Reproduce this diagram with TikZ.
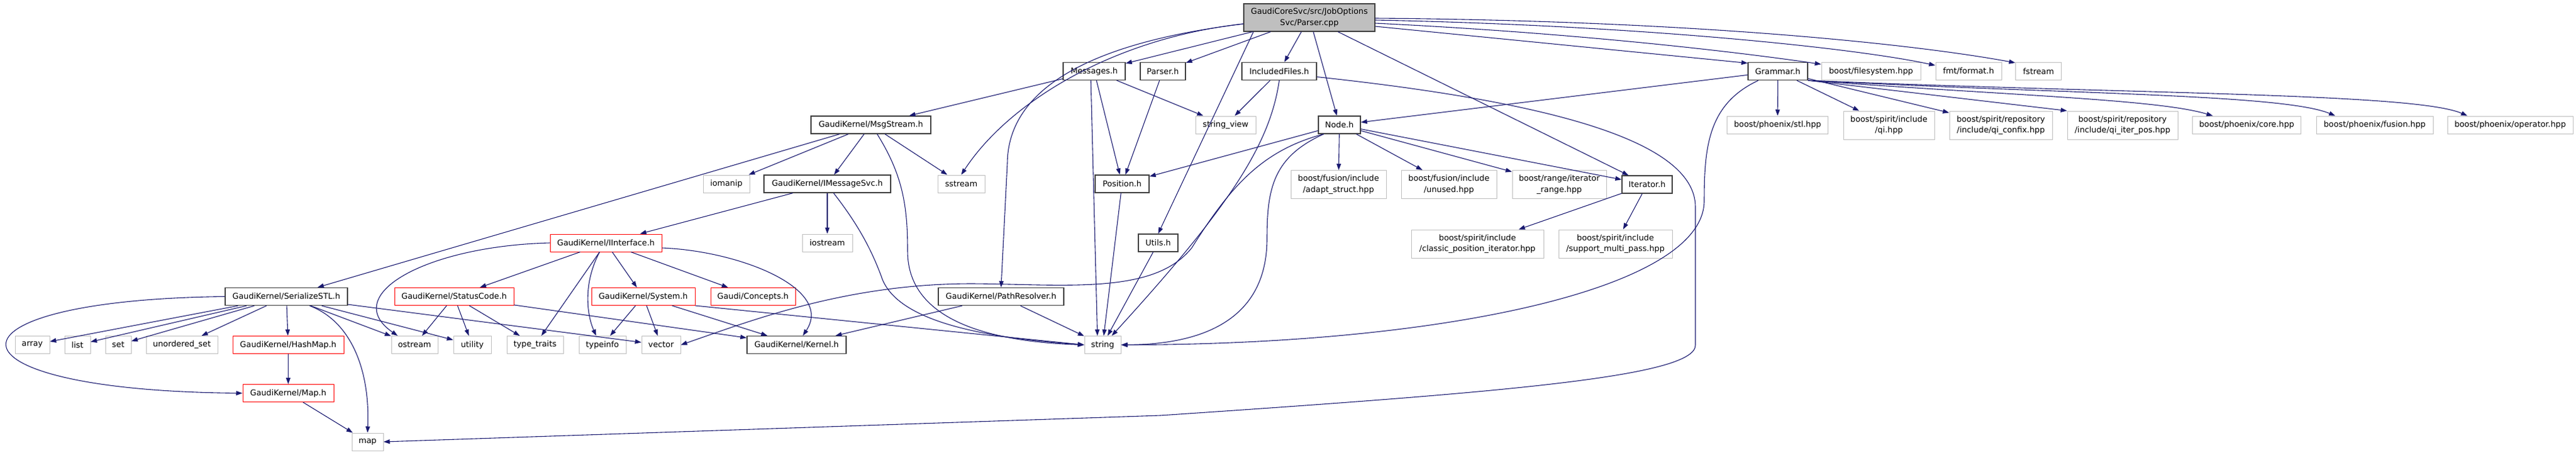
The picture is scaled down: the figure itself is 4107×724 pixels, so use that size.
\documentclass[tikz,border=0pt]{standalone}
\usepackage{fontspec}
\setmainfont{DejaVu Sans}
\usetikzlibrary{arrows.meta}

\definecolor{edgeblue}{HTML}{191970}
\definecolor{extgray}{HTML}{BFBFBF}
\definecolor{docgray}{HTML}{404040}

\tikzset{
    filebox/.style={rectangle, draw, fill=white, line width=1pt, inner sep=0pt,
        minimum height=28pt, align=center, font=\fontsize{12.8pt}{17.5pt}\selectfont},
    docfile/.style={filebox, draw=docgray, line width=1.3pt},
    redfile/.style={filebox, draw=red},
    extfile/.style={filebox, draw=extgray},
    mainfile/.style={filebox, draw=docgray, line width=1.3pt, fill=extgray, minimum height=44pt},
    twoline/.style={minimum height=45pt},
    dep/.style={draw=edgeblue, line width=1.1pt, -{Triangle[length=10pt,width=7pt]}}
}

\begin{document}
\begin{tikzpicture}[x=1pt, y=-1pt]
    \useasboundingbox (0,0) rectangle (4107,724);

    % Main file
    \node[mainfile, minimum width=209pt] (top) at (2087.5,28) {GaudiCoreSvc/src/JobOptions\\Svc/Parser.cpp};

    % First row
    \node[docfile, minimum width=99pt] (msgs) at (1744.5,113.5) {Messages.h};
    \node[docfile, minimum width=72pt] (parser) at (1854,113.5) {Parser.h};
    \node[docfile, minimum width=119pt] (incl) at (2039.5,113.5) {IncludedFiles.h};
    \node[docfile, minimum width=95pt] (grammar) at (2834.5,113.5) {Grammar.h};
    \node[extfile, minimum width=158pt] (fs) at (2983,113.5) {boost/filesystem.hpp};
    \node[extfile, minimum width=105pt] (fmt) at (3138.5,113.5) {fmt/format.h};
    \node[extfile, minimum width=73pt] (fstream) at (3250,113.5) {fstream};

    % Second row
    \node[docfile, minimum width=191pt] (msgstream) at (1388.5,199) {GaudiKernel/MsgStream.h};
    \node[extfile, minimum width=96pt] (strview) at (1954,199) {string\_view};
    \node[docfile, minimum width=67pt] (node) at (2135.5,199) {Node.h};
    \node[extfile, minimum width=161pt] (phstl) at (2834,199) {boost/phoenix/stl.hpp};
    \node[extfile, twoline, minimum width=145pt] (qi) at (3011.5,199.5) {boost/spirit/include\\/qi.hpp};
    \node[extfile, twoline, minimum width=164pt] (qiconfix) at (3190,199.5) {boost/spirit/repository\\/include/qi\_confix.hpp};
    \node[extfile, twoline, minimum width=176pt] (qiiter) at (3384,199.5) {boost/spirit/repository\\/include/qi\_iter\_pos.hpp};
    \node[extfile, minimum width=173pt] (phcore) at (3582,199) {boost/phoenix/core.hpp};
    \node[extfile, minimum width=186pt] (phfusion) at (3786,199) {boost/phoenix/fusion.hpp};
    \node[extfile, minimum width=200pt] (phop) at (4002,199) {boost/phoenix/operator.hpp};

    % Third row
    \node[extfile, minimum width=74pt] (iomanip) at (1158,293) {iomanip};
    \node[docfile, minimum width=202pt] (imsg) at (1319,293) {GaudiKernel/IMessageSvc.h};
    \node[extfile, minimum width=75pt] (sstream) at (1532.5,293) {sstream};
    \node[docfile, minimum width=86pt] (position) at (1789,293) {Position.h};
    \node[extfile, twoline, minimum width=152pt] (adapt) at (2134,294) {boost/fusion/include\\/adapt\_struct.hpp};
    \node[extfile, twoline, minimum width=152pt] (unused) at (2310,294) {boost/fusion/include\\/unused.hpp};
    \node[extfile, twoline, minimum width=150pt] (range) at (2486,294) {boost/range/iterator\\\_range.hpp};
    \node[docfile, minimum width=80pt] (iter) at (2626,294) {Iterator.h};

    % Fourth row
    \node[redfile, minimum width=178pt] (iinterface) at (966,387) {GaudiKernel/IInterface.h};
    \node[extfile, minimum width=80pt] (iostream) at (1319,387) {iostream};
    \node[docfile, minimum width=63pt] (utils) at (1846.5,387) {Utils.h};
    \node[extfile, twoline, minimum width=211pt] (classic) at (2355.5,388.5) {boost/spirit/include\\/classic\_position\_iterator.hpp};
    \node[extfile, twoline, minimum width=181pt] (multipass) at (2575.5,388.5) {boost/spirit/include\\/support\_multi\_pass.hpp};

    % Fifth row
    \node[docfile, minimum width=195pt] (ser) at (456.5,472.5) {GaudiKernel/SerializeSTL.h};
    \node[redfile, minimum width=190pt] (statuscode) at (724,472.5) {GaudiKernel/StatusCode.h};
    \node[redfile, minimum width=165pt] (system) at (1025.5,472.5) {GaudiKernel/System.h};
    \node[redfile, minimum width=135pt] (concepts) at (1200.5,472.5) {Gaudi/Concepts.h};
    \node[docfile, minimum width=200pt] (pathres) at (1596,472.5) {GaudiKernel/PathResolver.h};

    % Sixth row
    \node[extfile, minimum width=55pt] (array) at (51.5,549.5) {array};
    \node[extfile, minimum width=41pt] (list) at (123.5,549.5) {list};
    \node[extfile, minimum width=41pt] (set) at (188.5,549.5) {set};
    \node[extfile, minimum width=114pt] (uset) at (290,549.5) {unordered\_set};
    \node[redfile, minimum width=177pt] (hashmap) at (459.5,549.5) {GaudiKernel/HashMap.h};
    \node[extfile, minimum width=74pt] (ostream) at (661,549.5) {ostream};
    \node[extfile, minimum width=60pt] (utility) at (753,549.5) {utility};
    \node[extfile, minimum width=90pt] (typetraits) at (853,549.5) {type\_traits};
    \node[extfile, minimum width=75pt] (typeinfo) at (960.5,549.5) {typeinfo};
    \node[extfile, minimum width=62pt] (vector) at (1054,549.5) {vector};
    \node[docfile, minimum width=158pt] (kernel) at (1270,549.5) {GaudiKernel/Kernel.h};
    \node[extfile, minimum width=58pt] (string) at (1758,549.5) {string};

    % Last rows
    \node[redfile, minimum width=145pt] (mapH) at (459.5,626.5) {GaudiKernel/Map.h};
    \node[extfile, minimum width=50pt] (map) at (586,704) {map};

    % Straight includes
    \foreach \src/\dst in {top/msgs, top/parser, top/incl, top/node, top/iter,
        msgs/msgstream, msgs/strview, msgs/position, parser/position, incl/strview,
        msgstream/ser, msgstream/iomanip, msgstream/imsg, msgstream/sstream,
        imsg/iinterface, imsg/iostream,
        iinterface/statuscode, iinterface/typetraits, iinterface/system, iinterface/concepts,
        statuscode/ostream, statuscode/utility, statuscode/typetraits, statuscode/kernel,
        system/typeinfo, system/vector, system/kernel,
        ser/array, ser/list, ser/set, ser/uset, ser/hashmap, ser/ostream, ser/utility, ser/vector,
        hashmap/mapH, mapH/map, pathres/kernel, pathres/string, position/string, utils/string,
        node/position, node/adapt, node/unused, node/range, node/iter,
        grammar/node, grammar/phstl, grammar/qi, grammar/qiconfix,
        iter/classic, iter/multipass}
        \draw[dep] (\src) -- (\dst);

    \draw[dep] (msgs.250) -- (string.120);
    \draw[dep] ([xshift=16pt]top.south west) -- (utils.north);
    \draw[dep] (system.south east) -- (string.west);
    \draw[dep] (grammar.south east) -- (qiiter.north west);

    % Main file, long ones
    \draw[dep] ([yshift=-10pt]top.west) .. controls (1780,60) and (1610,160) .. (sstream.north);
    \draw[dep] ([yshift=-10pt]top.west) .. controls (1720,70) and (1607,150) .. (1606,260) -- (pathres.north);
    \draw[dep] ([yshift=-14pt]top.east) -- (grammar.165);
    \draw[dep] ([yshift=-9pt]top.east) .. controls (2500,52) and (2750,80) .. (fs.172);
    \draw[dep] ([yshift=-4pt]top.east) .. controls (2600,40) and (2950,75) .. (fmt.170);
    \draw[dep] ([yshift=-1pt]top.east) .. controls (2700,33) and (3050,70) .. (fstream.160);

    % Curved includes
    \draw[dep] (incl.south) .. controls (2025,230) and (1960,330) .. (string.45);
    \draw[dep] ([yshift=-9pt]incl.east) .. controls (2450,160) and (2703,220) .. (2703,330) -- (2703,550)
        .. controls (2703,600) and (2400,625) .. (1850,662) -- (map.east);
    \draw[dep] ([xshift=10pt]msgstream.south) .. controls (1440,280) and (1447,330) .. (1447,400)
        .. controls (1447,520) and (1600,545) .. (string.west);
    \draw[dep] ([xshift=10pt]imsg.south) .. controls (1370,360) and (1390,400) .. (1405,440)
        .. controls (1430,520) and (1600,540) .. (string.west);
    \draw[dep] (iinterface.west) .. controls (680,392) and (540,470) .. ([xshift=-27pt]ostream.north);
    \draw[dep] ([xshift=-10pt]iinterface.south) .. controls (930,450) and (935,500) .. ([xshift=-10pt]typeinfo.north);
    \draw[dep] ([yshift=-8pt]iinterface.east) .. controls (1180,400) and (1330,460) .. ([xshift=10pt]kernel.north);
    \draw[dep] (ser.west) .. controls (-110,478) and (-110,622) .. (mapH.west);
    \draw[dep] ([xshift=37pt]ser.south) .. controls (560,512) and (590,590) .. (map.north);
    \draw[dep] ([xshift=9pt]node.south west) .. controls (2010,240) and (1960,300) .. (1900,395)
        .. controls (1840,470) and (1700,453) .. (1550,452)
        .. controls (1350,452) and (1200,510) .. (vector.east);
    \draw[dep] ([xshift=9pt]node.south west) .. controls (2030,250) and (2020,300) .. (2020,380)
        .. controls (2020,520) and (1900,549) .. (string.east);
    \draw[dep] ([xshift=17pt]grammar.south west) .. controls (2725,165) and (2717,230) .. (2717,320)
        .. controls (2717,460) and (2300,549) .. (string.east);
    \draw[dep] (grammar.south east) .. controls (3200,152) and (3440,158) .. (phcore.165);
    \draw[dep] (grammar.south east) .. controls (3300,150) and (3640,150) .. (phfusion.167);
    \draw[dep] (grammar.south east) .. controls (3400,150) and (3850,148) .. (phop.168);
\end{tikzpicture}
\end{document}
